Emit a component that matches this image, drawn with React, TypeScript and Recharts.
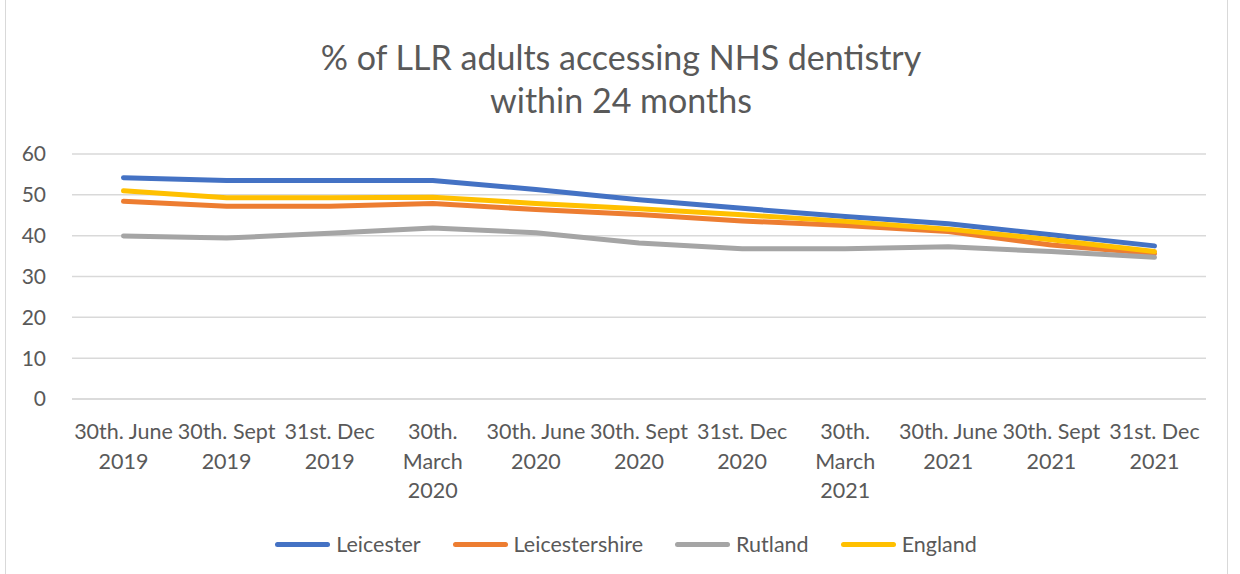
import React from "react";
import { CartesianGrid, Legend, Line, LineChart, XAxis, YAxis } from "recharts";

const periods = [
  "30th. June\n2019",
  "30th. Sept\n2019",
  "31st. Dec\n2019",
  "30th.\nMarch\n2020",
  "30th. June\n2020",
  "30th. Sept\n2020",
  "31st. Dec\n2020",
  "30th.\nMarch\n2021",
  "30th. June\n2021",
  "30th. Sept\n2021",
  "31st. Dec\n2021",
];

const leicester = [54.2, 53.5, 53.5, 53.5, 51.3, 48.8, 46.7, 44.7, 42.9, 40.2, 37.5];
const leicestershire = [48.4, 47.2, 47.2, 47.9, 46.4, 45.2, 43.6, 42.5, 41.0, 37.7, 35.6];
const rutland = [39.9, 39.4, 40.6, 41.9, 40.7, 38.2, 36.8, 36.8, 37.3, 36.1, 34.7];
const england = [51.0, 49.3, 49.3, 49.4, 47.9, 46.6, 45.1, 43.5, 41.6, 39.0, 36.1];

const yTicks = [0, 10, 20, 30, 40, 50, 60];

const seriesInfo = [
  { key: "leicester", name: "Leicester", color: "#4472C4" },
  { key: "leicestershire", name: "Leicestershire", color: "#ED7D31" },
  { key: "rutland", name: "Rutland", color: "#A5A5A5" },
  { key: "england", name: "England", color: "#FFC000" },
];

const data = periods.map((period, i) => ({
  period,
  leicester: leicester[i],
  leicestershire: leicestershire[i],
  rutland: rutland[i],
  england: england[i],
}));

const FONT = "Lato, 'Open Sans', sans-serif";
const TEXT = "#595959";

const PeriodTick = ({ x, y, payload }: { x?: number; y?: number; payload?: { value: string } }) => {
  const lines = String(payload?.value ?? "").split("\n");
  return (
    <text x={x} y={(y ?? 0) + 14} textAnchor="middle" fill={TEXT} fontSize={21.5} fontFamily={FONT}>
      {lines.map((line, i) => (
        <tspan key={i} x={x} dy={i === 0 ? 18 : 29.5}>
          {line}
        </tspan>
      ))}
    </text>
  );
};

const LegendContent = () => (
  <div style={{ display: "flex", justifyContent: "center", alignItems: "center", height: 40, paddingLeft: 34 }}>
    {seriesInfo.map((s) => (
      <div key={s.key} style={{ display: "flex", alignItems: "center", margin: "0 16px" }}>
        <div style={{ width: 55, height: 5, borderRadius: 3, background: s.color, marginRight: 6 }} />
        <span style={{ fontFamily: FONT, fontSize: 21.5, color: TEXT }}>{s.name}</span>
      </div>
    ))}
  </div>
);

export default function App() {
  return (
    <div style={{ position: "absolute", left: 0, top: 0, width: 1240, height: 574, background: "#fff", overflow: "hidden" }}>
      <div style={{ position: "absolute", left: 5, top: -2, width: 1221, height: 580, border: "1px solid #d9d9d9" }} />
      <div
        style={{
          position: "absolute",
          left: 10,
          top: 35,
          width: 1222,
          textAlign: "center",
          fontFamily: FONT,
          fontSize: 34,
          lineHeight: "43px",
          color: TEXT,
        }}
      >
        % of LLR adults accessing NHS dentistry
        <br />
        within 24 months
      </div>
      <div style={{ position: "absolute", left: 0, top: 0 }}>
        <LineChart width={1240} height={574} data={data} margin={{ top: 154, right: 34, bottom: 10, left: 12 }}>
          <CartesianGrid vertical={false} stroke="#d9d9d9" strokeWidth={1.5} />
          <XAxis
            dataKey="period"
            interval={0}
            tickLine={false}
            axisLine={{ stroke: "#d9d9d9", strokeWidth: 1.5 }}
            tick={<PeriodTick />}
            padding={{ left: 51.5, right: 51.5 }}
            height={125}
          />
          <YAxis
            domain={[0, 60]}
            ticks={yTicks}
            width={60}
            tickLine={false}
            axisLine={false}
            tick={{ fill: TEXT, fontSize: 21, fontFamily: FONT }}
            tickMargin={20}
          />
          <Legend verticalAlign="bottom" content={<LegendContent />} />
          {seriesInfo.map((s) => (
            <Line
              key={s.key}
              type="linear"
              dataKey={s.key}
              name={s.name}
              stroke={s.color}
              strokeWidth={5}
              strokeLinecap="round"
              strokeLinejoin="round"
              dot={false}
              activeDot={false}
              isAnimationActive={false}
            />
          ))}
        </LineChart>
      </div>
    </div>
  );
}
